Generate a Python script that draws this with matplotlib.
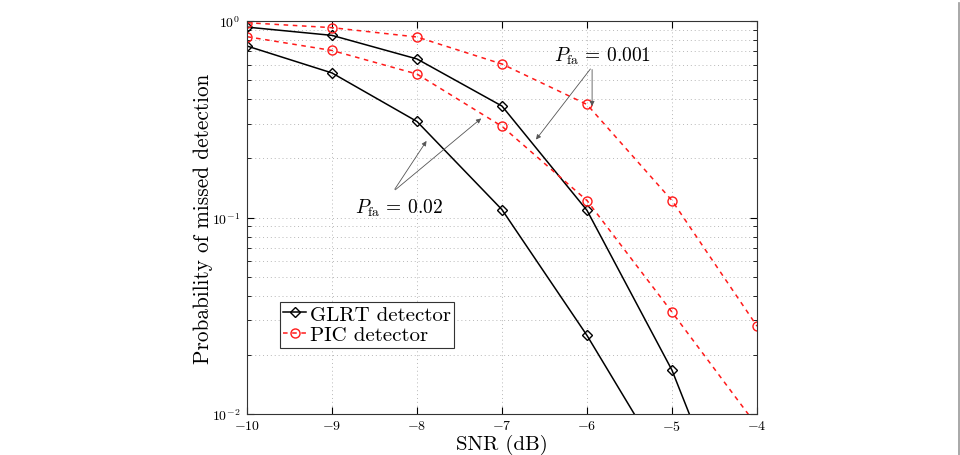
import matplotlib
matplotlib.use("Agg")
import matplotlib.pyplot as plt
from matplotlib.lines import Line2D
from matplotlib.ticker import LogLocator, NullFormatter

plt.rcParams['mathtext.fontset'] = 'cm'
plt.rcParams['font.family'] = ['cmr10', 'DejaVu Serif']
plt.rcParams['axes.formatter.use_mathtext'] = True

snr = [-10, -9, -8, -7, -6, -5, -4]
glrt_002 = [0.746, 0.544, 0.308, 0.1096, 0.0251, 0.0048]
glrt_0001 = [0.931, 0.845, 0.641, 0.369, 0.1087, 0.0167, 0.00135]
pic_0001 = [0.98, 0.925, 0.829, 0.604, 0.376, 0.122, 0.028]
pic_002 = [0.832, 0.708, 0.537, 0.291, 0.122, 0.033, 0.0087]

fig = plt.figure(figsize=(9.6, 4.56), dpi=100)
ax = fig.add_axes([247/960, 1-415/456, (757-247)/960, (415-22)/456])

blk = dict(color='black', lw=1.1, marker='D', ms=5, mfc='none', mec='black', mew=1.0)
red = dict(color='#ff1a1a', lw=1.1, ls=(0, (3, 3)), marker='o', ms=6.5, mfc='none', mec='#ff1a1a', mew=1.0)

l1, = ax.plot(snr[:len(glrt_002)], glrt_002, **blk)
ax.plot(snr, glrt_0001, **blk)
l2, = ax.plot(snr, pic_0001, **red)
ax.plot(snr, pic_002, **red)

ax.set_yscale('log')
ax.set_xlim(-10, -4)
ax.set_ylim(1e-2, 1)
ax.set_xticks(snr)
ax.yaxis.set_major_locator(LogLocator(base=10, numticks=5))
ax.yaxis.set_minor_locator(LogLocator(base=10, subs=range(2, 10), numticks=20))
ax.yaxis.set_minor_formatter(NullFormatter())
ax.tick_params(which='both', direction='in', top=True, right=True, labelsize=10)
ax.tick_params(axis='y', pad=5)
ax.tick_params(which='major', length=5)
ax.tick_params(which='minor', length=3)
ax.grid(True, which='both', ls=(0, (1, 3)), color='#b8b8b8', lw=0.7)
for s in ax.spines.values():
    s.set_color('#333333')

ax.set_xlabel('SNR (dB)', fontsize=15, labelpad=1)
ax.set_ylabel('Probability of missed detection', fontsize=15.3, labelpad=-1)

ap = dict(arrowstyle='-|>', color='#555555', lw=0.6, mutation_scale=7)
ax.annotate('', xy=(-6.62, 0.243), xytext=(-5.94, 0.585), arrowprops=ap)
ax.annotate('', xy=(-5.94, 0.357), xytext=(-5.94, 0.585), arrowprops=ap)
ax.text(-6.39, 0.628, r'$P_{\rm fa}\,=\,0.001$', fontsize=14, ha='left', va='baseline')

ax.annotate('', xy=(-7.87, 0.252), xytext=(-8.28, 0.1355), arrowprops=ap)
ax.annotate('', xy=(-7.22, 0.326), xytext=(-8.28, 0.1355), arrowprops=ap)
ax.text(-8.73, 0.1057, r'$P_{\rm fa}\,=\,0.02$', fontsize=14, ha='left', va='baseline')

leg = ax.legend([l1, l2], ['GLRT detector', 'PIC detector'], loc='upper left',
                bbox_to_anchor=((280-247)/510, (415-303)/393), fontsize=15,
                handlelength=1.1, handletextpad=0.2, borderpad=0.15,
                labelspacing=0.1, fancybox=False, edgecolor='#333333',
                framealpha=1, borderaxespad=0)
leg.get_frame().set_linewidth(0.8)

fig.add_artist(Line2D([958.5/960, 958.5/960], [0, 1-4/456], transform=fig.transFigure,
                      color='#999999', lw=1.2))

fig.savefig('out.png', dpi=100)
